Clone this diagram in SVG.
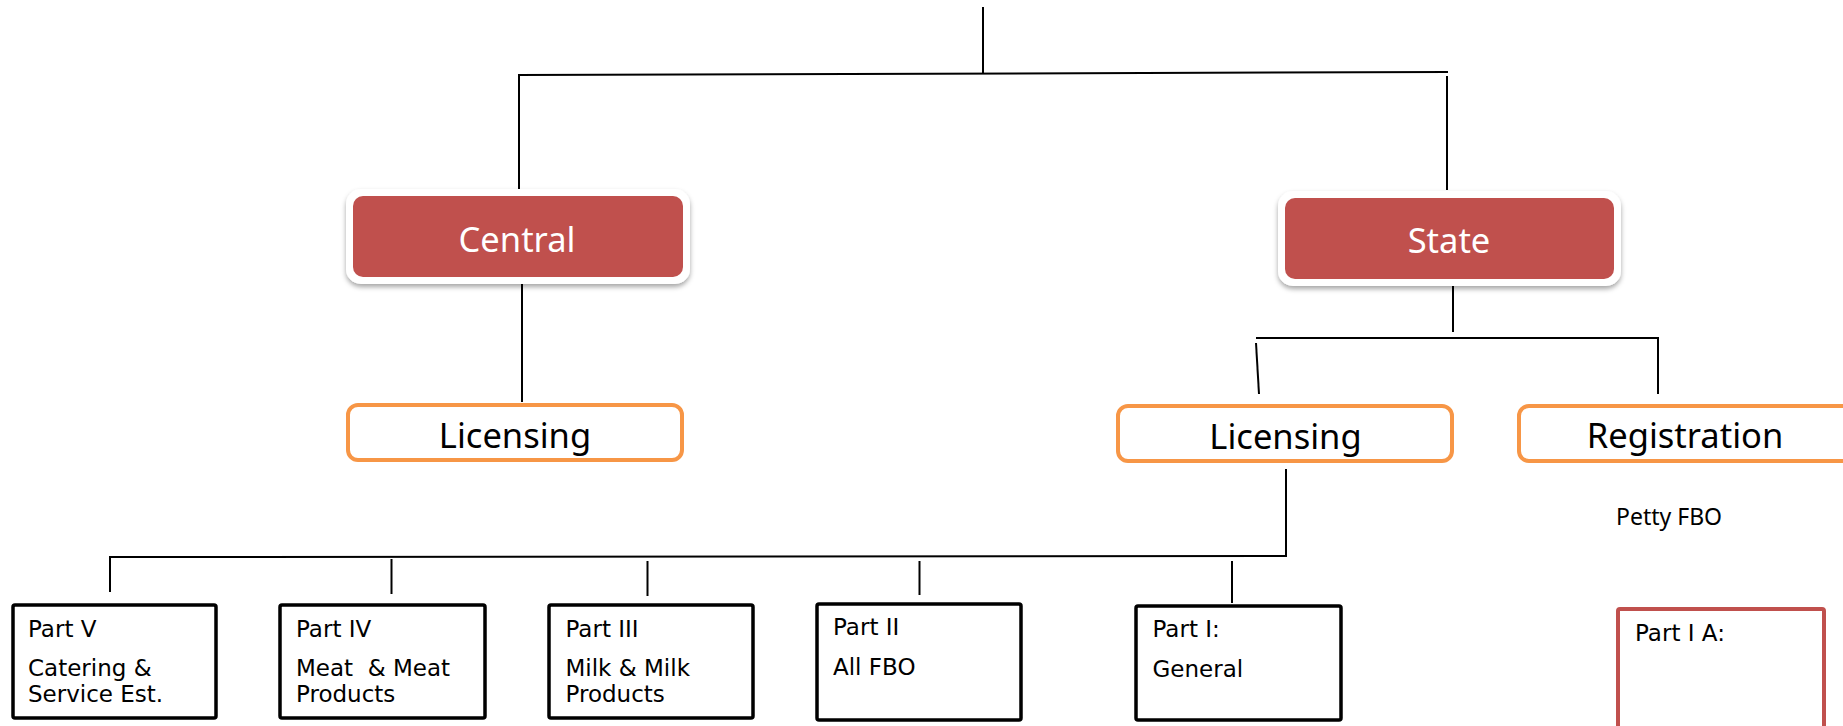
<svg xmlns="http://www.w3.org/2000/svg" width="1843" height="726" viewBox="0 0 1843 726">
<defs>
<filter id="sh" x="-10%" y="-20%" width="120%" height="150%">
<feDropShadow dx="0" dy="3" stdDeviation="2.5" flood-color="#000" flood-opacity="0.35"/>
</filter>
<style>
.ln{stroke:#000;stroke-width:2;fill:none}
.frame{fill:#fff;filter:url(#sh)}
.red{fill:#C0504D}
.org{fill:#fff;stroke:#F79646;stroke-width:4}
.blk{fill:#fff;stroke:#000;stroke-width:3.5}
.big{font-family:"Noto Sans","Open Sans",sans-serif;font-size:34.5px;text-anchor:middle}
.sm{font-family:"DejaVu Sans","Liberation Sans",sans-serif;font-size:23px;fill:#000;white-space:pre}
.pt{font-family:"Noto Sans","Open Sans",sans-serif;font-size:23px;fill:#000}
</style>
</defs>
<rect width="1843" height="726" fill="#fff"/>
<g id="connectors">
<line class="ln" x1="983" y1="7" x2="983" y2="74"/>
<line class="ln" x1="518" y1="75" x2="1448" y2="72"/>
<line class="ln" x1="519" y1="75" x2="519" y2="189"/>
<line class="ln" x1="1447" y1="76" x2="1447" y2="190"/>
<line class="ln" x1="522" y1="279" x2="522" y2="402"/>
<line class="ln" x1="1453" y1="286" x2="1453" y2="332"/>
<line class="ln" x1="1256" y1="338" x2="1659" y2="338"/>
<line class="ln" x1="1256" y1="343" x2="1259" y2="394"/>
<line class="ln" x1="1658" y1="338" x2="1658" y2="394"/>
<line class="ln" x1="1286" y1="469" x2="1286" y2="557"/>
<line class="ln" x1="109" y1="557" x2="1287" y2="556"/>
<line class="ln" x1="110" y1="557" x2="110" y2="592"/>
<line class="ln" x1="391.5" y1="559" x2="391.5" y2="594"/>
<line class="ln" x1="647.5" y1="561" x2="647.5" y2="596"/>
<line class="ln" x1="919.5" y1="561" x2="919.5" y2="595"/>
<line class="ln" x1="1232" y1="561" x2="1232" y2="603"/>
</g>
<g id="central">
<rect class="frame" x="346" y="189" width="344" height="95" rx="15"/>
<rect class="red" x="353" y="196" width="330" height="81" rx="10"/>
<text class="big" x="517" y="252" fill="#fff">Central</text>
</g>
<g id="state">
<rect class="frame" x="1278" y="191" width="343" height="95" rx="15"/>
<rect class="red" x="1285" y="198" width="329" height="81" rx="10"/>
<text class="big" x="1449" y="253" fill="#fff">State</text>
</g>
<g id="licensing-central">
<rect class="org" x="348" y="405" width="334" height="55" rx="10"/>
<text class="big" x="515" y="447.5" fill="#000">Licensing</text>
</g>
<g id="licensing-state">
<rect class="org" x="1118" y="406" width="334" height="55" rx="10"/>
<text class="big" x="1285.5" y="448.5" fill="#000">Licensing</text>
</g>
<g id="registration">
<rect class="org" x="1519" y="406" width="340" height="55" rx="10"/>
<text class="big" x="1685" y="448" fill="#000">Registration</text>
</g>
<g id="petty">
<text class="pt" x="1616" y="525">Petty FBO</text>
</g>
<g id="part5">
<rect class="blk" x="13" y="605" width="203" height="113" rx="2"/>
<text class="sm" x="28" y="637">Part V</text>
<text class="sm" x="28" y="676">Catering &amp;</text>
<text class="sm" x="28" y="702">Service Est.</text>
</g>
<g id="part4">
<rect class="blk" x="280" y="605" width="205" height="113" rx="2"/>
<text class="sm" x="296" y="637">Part IV</text>
<text class="sm" x="296" y="676">Meat  &amp; Meat</text>
<text class="sm" x="296" y="702">Products</text>
</g>
<g id="part3">
<rect class="blk" x="549" y="605" width="204" height="113" rx="2"/>
<text class="sm" x="565.5" y="637">Part III</text>
<text class="sm" x="565.5" y="676">Milk &amp; Milk</text>
<text class="sm" x="565.5" y="702">Products</text>
</g>
<g id="part2">
<rect class="blk" x="817" y="604" width="204" height="116" rx="2"/>
<text class="sm" x="833" y="635">Part II</text>
<text class="sm" x="833" y="675">All FBO</text>
</g>
<g id="part1">
<rect class="blk" x="1136" y="606" width="205" height="114" rx="2"/>
<text class="sm" x="1152.5" y="637">Part I:</text>
<text class="sm" x="1152.5" y="677">General</text>
</g>
<g id="part1a">
<rect x="1618" y="609" width="206" height="140" rx="2" fill="#fff" stroke="#C0504D" stroke-width="4"/>
<text class="sm" x="1635" y="641">Part I A:</text>
</g>
</svg>
